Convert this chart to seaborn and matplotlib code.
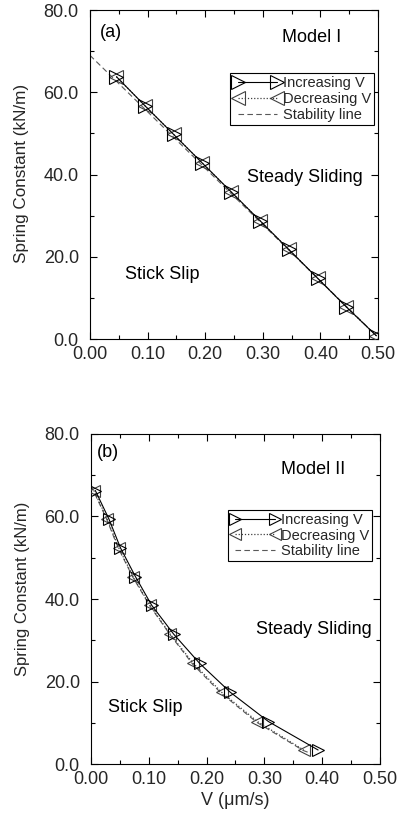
import matplotlib
matplotlib.use("Agg")
import matplotlib.pyplot as plt
import seaborn as sns
import numpy as np
from matplotlib.ticker import MultipleLocator, FormatStrFormatter

# ---- data ----
v_inc_a = [0.046, 0.095, 0.145, 0.195, 0.245, 0.295, 0.345, 0.395, 0.445, 0.497]
k_inc_a = [63.8, 56.8, 49.8, 42.8, 35.8, 28.8, 21.8, 14.8, 7.8, 0.8]
v_dec_a = [0.046, 0.095, 0.145, 0.195, 0.245, 0.295, 0.345, 0.395, 0.445, 0.497]
k_dec_a = [63.8, 56.8, 49.8, 42.8, 35.8, 28.8, 21.8, 14.8, 7.8, 0.8]
v_stab_a = [0.0, 0.497]
k_stab_a = [69.0, 0.8]

v_inc_b = [0.0075, 0.031, 0.051, 0.077, 0.105, 0.143, 0.188, 0.241, 0.307, 0.393]
k_inc_b = [66.3, 59.4, 52.4, 45.4, 38.5, 31.5, 24.4, 17.4, 10.3, 3.4]
v_dec_b = [0.005, 0.028, 0.048, 0.073, 0.102, 0.137, 0.177, 0.226, 0.288, 0.368]
k_dec_b = [66.3, 59.4, 52.4, 45.4, 38.5, 31.5, 24.4, 17.4, 10.3, 3.4]
v_stab_b = [0.0, 0.027, 0.047, 0.072, 0.101, 0.136, 0.176, 0.225, 0.287, 0.367, 0.38]
k_stab_b = [67.5, 59.4, 52.4, 45.4, 38.5, 31.5, 24.2, 17.2, 10.1, 3.3, 2.6]

sns.set_style("ticks")
plt.rcParams["font.family"] = ["Liberation Sans", "DejaVu Sans"]

fig = plt.figure(figsize=(3.98, 8.21), dpi=100)
ax1 = fig.add_axes([0.226, 0.587, 0.724, 0.4007])
ax2 = fig.add_axes([0.2286, 0.0694, 0.726, 0.402])

FS = 13

def draw(ax, vi, ki, vd, kd, vs, ks, ms, loc_anchor, texts, xlabel, ylfs, ylpos):
    sns.lineplot(x=vs, y=ks, ax=ax, color="0.35", lw=0.8, linestyle=(0, (5, 3)),
                 sort=False, label="Stability line", zorder=2)
    sns.lineplot(x=vd, y=kd, ax=ax, color="0.25", lw=0.9, linestyle=(0, (1, 1.5)),
                 marker="<", markersize=ms, markerfacecolor="none",
                 markeredgecolor="0.25", markeredgewidth=0.8,
                 sort=False, label="Decreasing V", zorder=3)
    sns.lineplot(x=vi, y=ki, ax=ax, color="black", lw=0.8, linestyle="-",
                 marker=">", markersize=ms, markerfacecolor="none",
                 markeredgecolor="black", markeredgewidth=0.8,
                 sort=False, label="Increasing V", zorder=4)
    ax.set_xlim(0, 0.5)
    ax.set_ylim(0, 80)
    ax.xaxis.set_major_locator(MultipleLocator(0.1))
    ax.xaxis.set_minor_locator(MultipleLocator(0.05))
    ax.yaxis.set_major_locator(MultipleLocator(20))
    ax.yaxis.set_minor_locator(MultipleLocator(10))
    ax.xaxis.set_major_formatter(FormatStrFormatter("%.2f"))
    ax.yaxis.set_major_formatter(FormatStrFormatter("%.1f"))
    ax.tick_params(which="both", direction="in", top=True, right=True,
                   color="black", width=0.8)
    ax.tick_params(which="major", length=5, labelsize=FS)
    ax.tick_params(axis="x", which="major", pad=5)
    ax.tick_params(axis="y", which="major", pad=8)
    ax.tick_params(which="minor", length=3)
    for s in ax.spines.values():
        s.set_color("black")
        s.set_linewidth(0.8)
    ax.set_ylabel("Spring Constant (kN/m)", fontsize=ylfs)
    ax.yaxis.set_label_coords(-0.21, ylpos)
    if xlabel:
        ax.set_xlabel(xlabel, fontsize=FS, labelpad=3)
    else:
        ax.set_xlabel("")
    h, l = ax.get_legend_handles_labels()
    order = [l.index("Increasing V"), l.index("Decreasing V"), l.index("Stability line")]
    ax.legend([h[i] for i in order], [l[i] for i in order], loc="upper right",
              bbox_to_anchor=loc_anchor, fontsize=10.5, frameon=True,
              fancybox=False, framealpha=1, edgecolor="black",
              handlelength=3.3, handletextpad=0.1, labelspacing=0.12,
              borderpad=0.2, borderaxespad=0, numpoints=2).get_frame().set_linewidth(0.8)
    for (x, y, s, ha) in texts:
        ax.text(x, y, s, fontsize=FS, ha=ha, va="center", color="black")

draw(ax1, v_inc_a, k_inc_a, v_dec_a, k_dec_a, v_stab_a, k_stab_a, 9.5,
     (0.986, 0.808),
     [(0.017, 74.5, "(a)", "left"), (0.385, 73.4, "Model I", "center"),
      (0.373, 39.4, "Steady Sliding", "center"), (0.125, 15.8, "Stick Slip", "center")],
     None, 12.3, 0.503)
draw(ax2, v_inc_b, k_inc_b, v_dec_b, k_dec_b, v_stab_b, k_stab_b, 8,
     (0.972, 0.77),
     [(0.0104, 75.4, "(b)", "left"), (0.384, 71.5, "Model II", "center"),
      (0.386, 32.5, "Steady Sliding", "center"), (0.094, 13.8, "Stick Slip", "center")],
     "V (μm/s)", 12, 0.53)

fig.savefig("out.png", dpi=100)
